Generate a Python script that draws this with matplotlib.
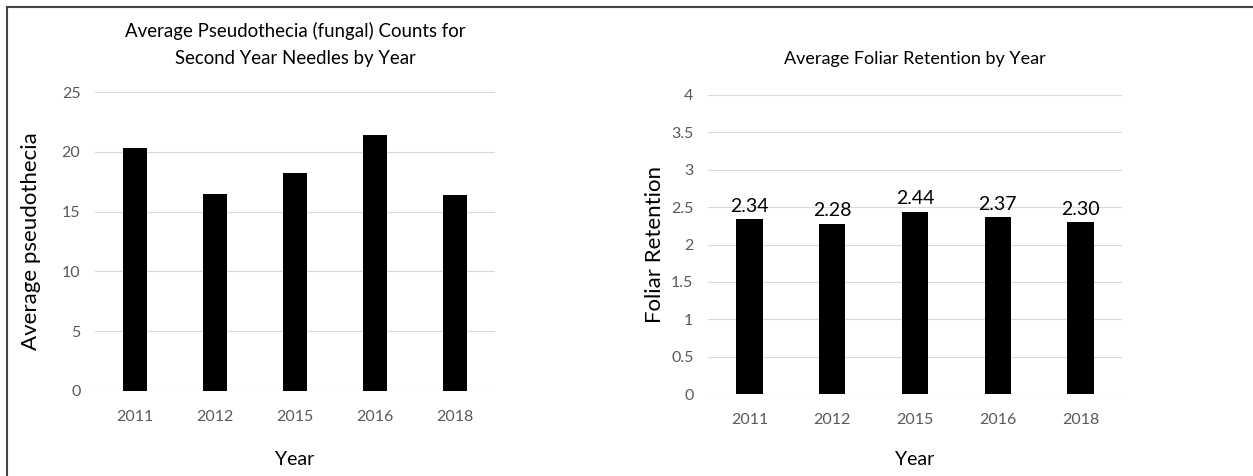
import matplotlib.pyplot as plt
from matplotlib.lines import Line2D

years = ['2011', '2012', '2015', '2016', '2018']
pseudothecia = [20.3, 16.5, 18.25, 21.4, 16.4]
retention = [2.34, 2.28, 2.44, 2.37, 2.30]

plt.rcParams['font.family'] = ['Lato', 'DejaVu Sans']

W, H = 1253, 476
fig = plt.figure(figsize=(W / 100, H / 100), dpi=100)


def box(x0, x1, y0, y1):
    # pixel box -> figure fraction
    return [x0 / W, 1 - y1 / H, (x1 - x0) / W, (y1 - y0) / H]


def style(ax, ymax, step):
    ax.set_ylim(0, ymax)
    ticks = [i * step for i in range(int(round(ymax / step)) + 1)]
    ax.set_yticks(ticks)
    ax.set_yticklabels([f'{t:g}' for t in ticks])
    ax.set_xlim(-0.5, len(years) - 0.5)
    ax.grid(axis='y', color='#d9d9d9', lw=0.8)
    ax.set_axisbelow(True)
    for s in ax.spines.values():
        s.set_visible(False)
    ax.tick_params(length=0, colors='#595959', labelsize=11.5)
    ax.tick_params(axis='x', pad=14)
    ax.tick_params(axis='y', pad=10.5)


# left: pseudothecia counts
ax1 = fig.add_axes(box(95, 495, 92, 391))
ax1.bar(years, pseudothecia, width=0.31, color='black')
style(ax1, 25, 5)
ax1.set_xlabel('Year', fontsize=14, labelpad=19)
ax1.set_ylabel('Average pseudothecia', fontsize=16, labelpad=15)
ax1.set_title('Average Pseudothecia (fungal) Counts for\nSecond Year Needles by Year',
              fontsize=13.4, pad=20, linespacing=1.75)

# right: foliar retention
ax2 = fig.add_axes(box(708, 1122, 95, 394))
bars = ax2.bar(years, retention, width=0.32, color='black')
style(ax2, 4, 0.5)
ax2.bar_label(bars, labels=[f'{v:.2f}' for v in retention], padding=3, fontsize=14)
ax2.set_xlabel('Year', fontsize=14, labelpad=17)
ax2.set_ylabel('Foliar Retention', fontsize=16, labelpad=4)
ax2.set_title('Average Foliar Retention by Year', fontsize=13, pad=22)

# frame along top and left edges
fig.add_artist(Line2D([7 / W, 1252 / W], [1 - 6.5 / H, 1 - 6.5 / H],
                      color='#444444', lw=1.5, transform=fig.transFigure))
fig.add_artist(Line2D([7 / W, 7 / W], [1 - 6.5 / H, 0],
                      color='#444444', lw=1.5, transform=fig.transFigure))

fig.savefig('out.png', dpi=100)
